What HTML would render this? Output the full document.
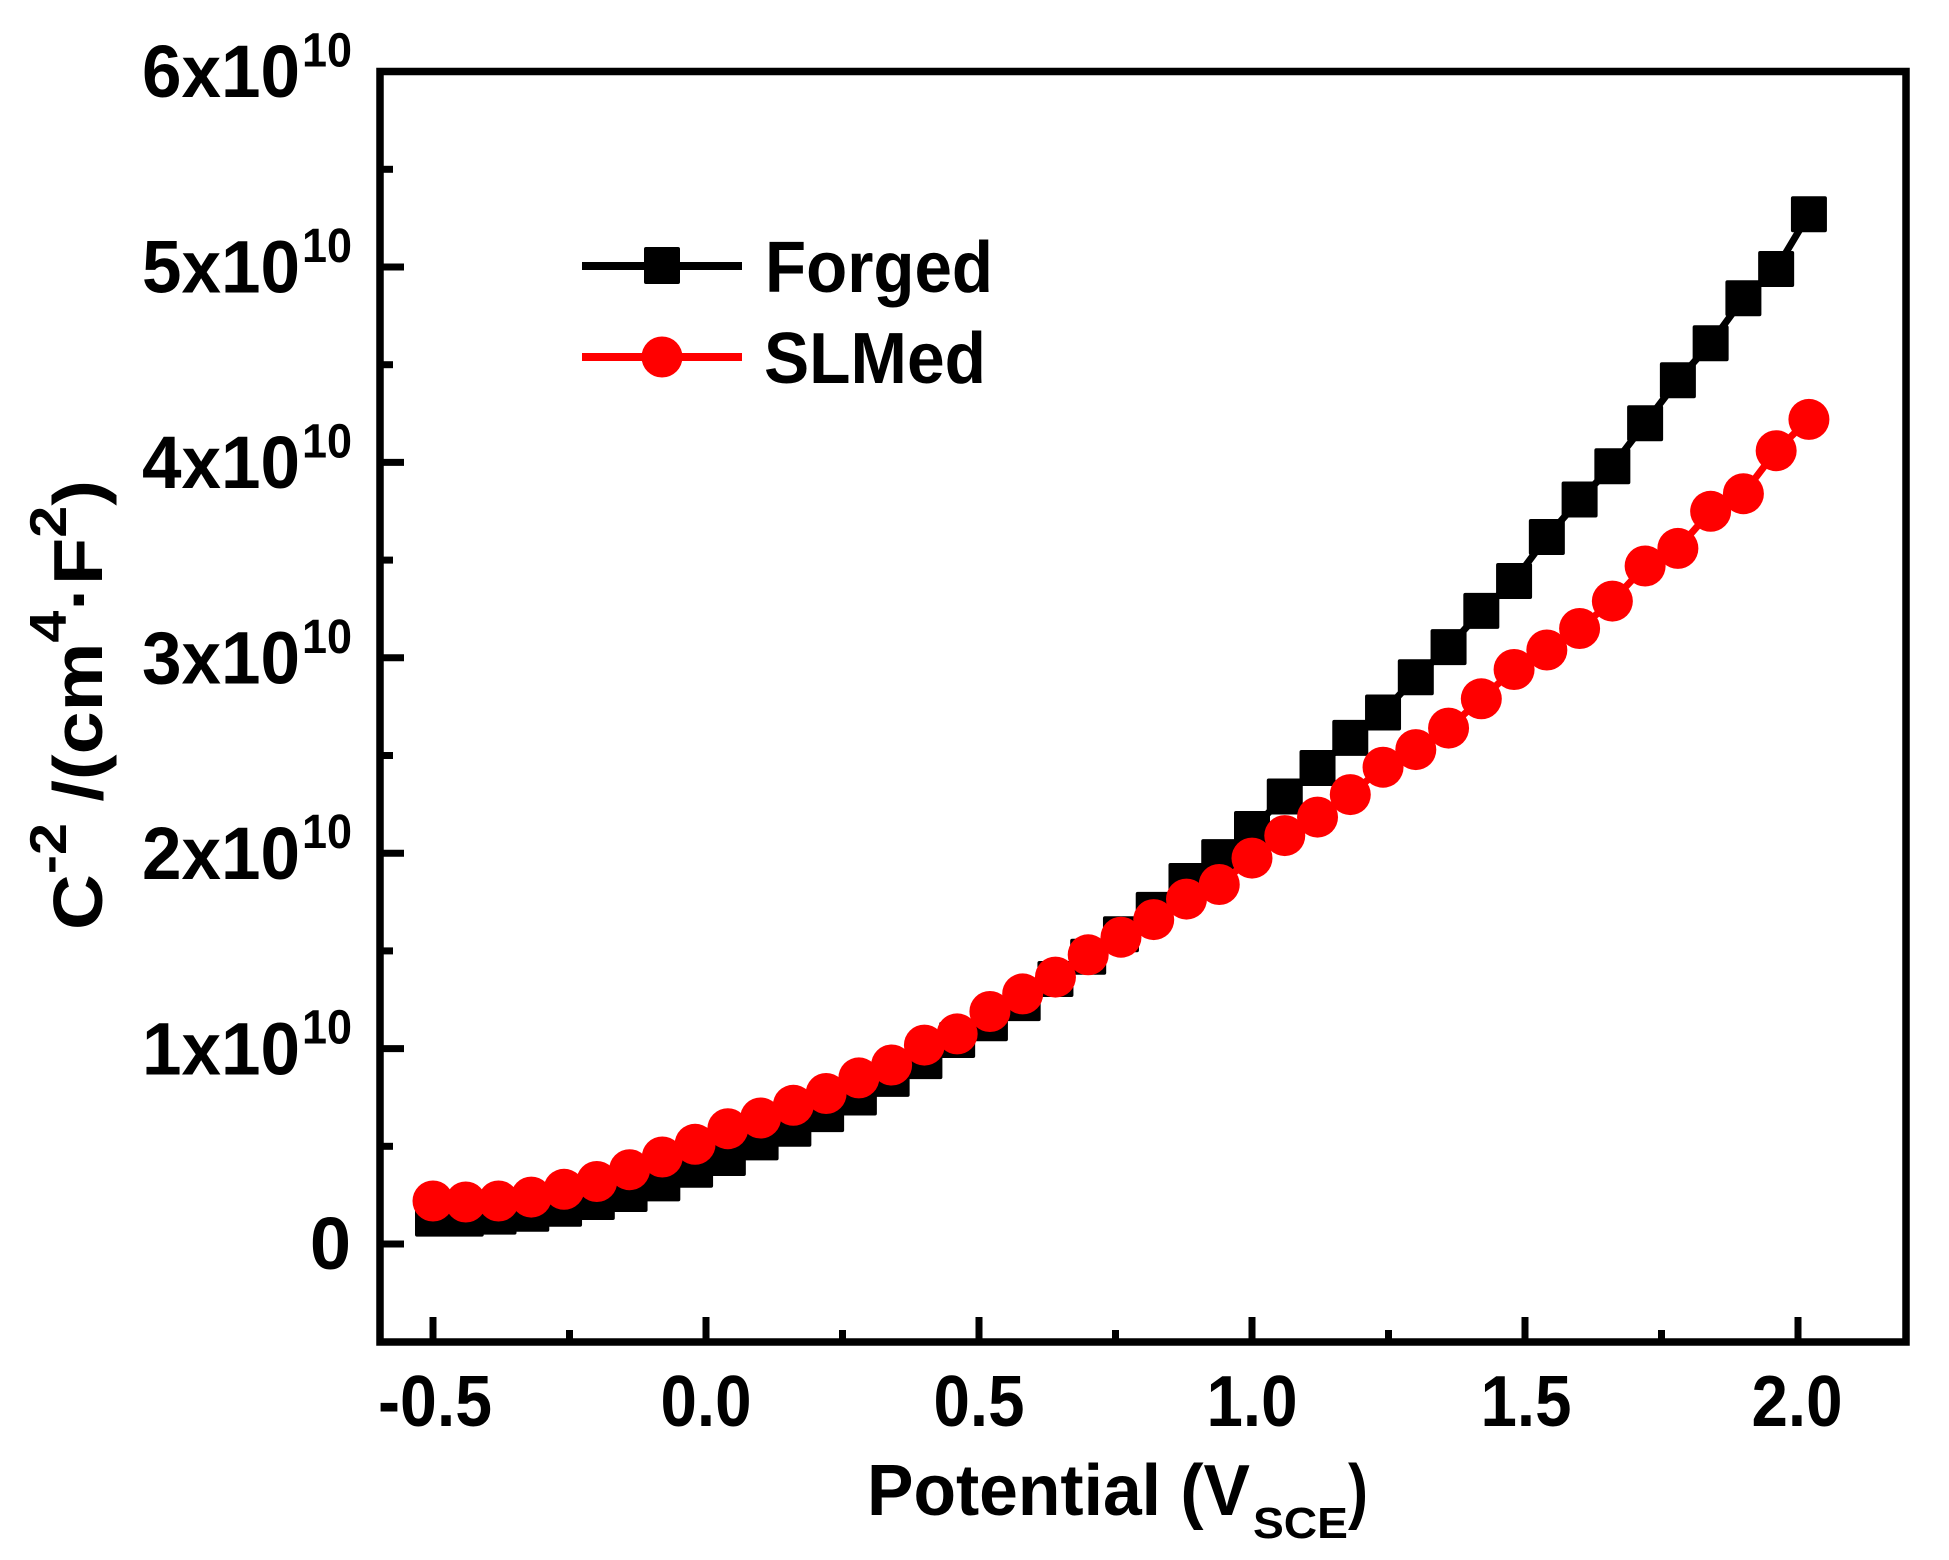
<!DOCTYPE html>
<html>
<head>
<meta charset="utf-8">
<style>
  html,body{margin:0;padding:0;background:#fff;}
  svg{display:block;}
  text{font-family:"Liberation Sans",Arial,sans-serif;font-weight:bold;fill:#000;}
</style>
</head>
<body>
<svg width="1949" height="1560" viewBox="0 0 1949 1560" xmlns="http://www.w3.org/2000/svg">
  <rect x="0" y="0" width="1949" height="1560" fill="#fff"/>

  <g stroke="#000" stroke-width="7">
    <line x1="380" y1="1244" x2="404" y2="1244"/>
    <line x1="380" y1="1048.6" x2="404" y2="1048.6"/>
    <line x1="380" y1="853.2" x2="404" y2="853.2"/>
    <line x1="380" y1="657.8" x2="404" y2="657.8"/>
    <line x1="380" y1="462.4" x2="404" y2="462.4"/>
    <line x1="380" y1="267" x2="404" y2="267"/>
    <line x1="380" y1="1146.3" x2="393" y2="1146.3"/>
    <line x1="380" y1="950.9" x2="393" y2="950.9"/>
    <line x1="380" y1="755.5" x2="393" y2="755.5"/>
    <line x1="380" y1="560.1" x2="393" y2="560.1"/>
    <line x1="380" y1="364.7" x2="393" y2="364.7"/>
    <line x1="380" y1="169.3" x2="393" y2="169.3"/>
    <line x1="433" y1="1342" x2="433" y2="1317"/>
    <line x1="706" y1="1342" x2="706" y2="1317"/>
    <line x1="979" y1="1342" x2="979" y2="1317"/>
    <line x1="1252" y1="1342" x2="1252" y2="1317"/>
    <line x1="1525" y1="1342" x2="1525" y2="1317"/>
    <line x1="1798" y1="1342" x2="1798" y2="1317"/>
    <line x1="569.5" y1="1342" x2="569.5" y2="1330"/>
    <line x1="842.5" y1="1342" x2="842.5" y2="1330"/>
    <line x1="1115.5" y1="1342" x2="1115.5" y2="1330"/>
    <line x1="1388.5" y1="1342" x2="1388.5" y2="1330"/>
    <line x1="1661.5" y1="1342" x2="1661.5" y2="1330"/>
  </g>

  <rect x="380" y="71.5" width="1526" height="1270.5" fill="none" stroke="#000" stroke-width="7.5"/>

  <polyline fill="none" stroke="#000" stroke-width="7" stroke-linejoin="round" points="433,1218.6 465.76,1218.6 498.52,1216.6 531.28,1213.7 564.04,1208.8 596.8,1202 629.56,1194 662.32,1183.4 695.08,1169.7 727.84,1158 760.6,1142.4 793.36,1128.7 826.12,1114.1 858.88,1097.5 891.64,1078.9 924.4,1061.1 957.16,1040 989.92,1023.2 1022.68,1003.1 1055.44,979 1088.2,956.8 1120.96,934.3 1153.72,909.9 1186.48,881 1219.24,857.1 1252,829 1284.76,796.5 1317.52,768 1350.28,737.9 1383.04,712.5 1415.8,677.3 1448.56,647.1 1481.32,610.9 1514.08,581 1546.84,537 1579.6,499.5 1612.36,466.3 1645.12,423.3 1677.88,380.3 1710.64,343.2 1743.4,298.3 1776.16,269 1808.92,214.2"/>
  <g fill="#000">
    <rect x="415" y="1200.6" width="36" height="36" rx="2"/>
    <rect x="447.76" y="1200.6" width="36" height="36" rx="2"/>
    <rect x="480.52" y="1198.6" width="36" height="36" rx="2"/>
    <rect x="513.28" y="1195.7" width="36" height="36" rx="2"/>
    <rect x="546.04" y="1190.8" width="36" height="36" rx="2"/>
    <rect x="578.8" y="1184" width="36" height="36" rx="2"/>
    <rect x="611.56" y="1176" width="36" height="36" rx="2"/>
    <rect x="644.32" y="1165.4" width="36" height="36" rx="2"/>
    <rect x="677.08" y="1151.7" width="36" height="36" rx="2"/>
    <rect x="709.84" y="1140" width="36" height="36" rx="2"/>
    <rect x="742.6" y="1124.4" width="36" height="36" rx="2"/>
    <rect x="775.36" y="1110.7" width="36" height="36" rx="2"/>
    <rect x="808.12" y="1096.1" width="36" height="36" rx="2"/>
    <rect x="840.88" y="1079.5" width="36" height="36" rx="2"/>
    <rect x="873.64" y="1060.9" width="36" height="36" rx="2"/>
    <rect x="906.4" y="1043.1" width="36" height="36" rx="2"/>
    <rect x="939.16" y="1022" width="36" height="36" rx="2"/>
    <rect x="971.92" y="1005.2" width="36" height="36" rx="2"/>
    <rect x="1004.68" y="985.1" width="36" height="36" rx="2"/>
    <rect x="1037.44" y="961" width="36" height="36" rx="2"/>
    <rect x="1070.2" y="938.8" width="36" height="36" rx="2"/>
    <rect x="1102.96" y="916.3" width="36" height="36" rx="2"/>
    <rect x="1135.72" y="891.9" width="36" height="36" rx="2"/>
    <rect x="1168.48" y="863" width="36" height="36" rx="2"/>
    <rect x="1201.24" y="839.1" width="36" height="36" rx="2"/>
    <rect x="1234" y="811" width="36" height="36" rx="2"/>
    <rect x="1266.76" y="778.5" width="36" height="36" rx="2"/>
    <rect x="1299.52" y="750" width="36" height="36" rx="2"/>
    <rect x="1332.28" y="719.9" width="36" height="36" rx="2"/>
    <rect x="1365.04" y="694.5" width="36" height="36" rx="2"/>
    <rect x="1397.8" y="659.3" width="36" height="36" rx="2"/>
    <rect x="1430.56" y="629.1" width="36" height="36" rx="2"/>
    <rect x="1463.32" y="592.9" width="36" height="36" rx="2"/>
    <rect x="1496.08" y="563" width="36" height="36" rx="2"/>
    <rect x="1528.84" y="519" width="36" height="36" rx="2"/>
    <rect x="1561.6" y="481.5" width="36" height="36" rx="2"/>
    <rect x="1594.36" y="448.3" width="36" height="36" rx="2"/>
    <rect x="1627.12" y="405.3" width="36" height="36" rx="2"/>
    <rect x="1659.88" y="362.3" width="36" height="36" rx="2"/>
    <rect x="1692.64" y="325.2" width="36" height="36" rx="2"/>
    <rect x="1725.4" y="280.3" width="36" height="36" rx="2"/>
    <rect x="1758.16" y="251" width="36" height="36" rx="2"/>
    <rect x="1790.92" y="196.2" width="36" height="36" rx="2"/>
  </g>

  <polyline fill="none" stroke="#ff0000" stroke-width="7" stroke-linejoin="round" points="433,1201 465.76,1202 498.52,1201 531.28,1197.1 564.04,1189.3 596.8,1181.5 629.56,1169.7 662.32,1157 695.08,1144.3 727.84,1128.7 760.6,1118 793.36,1105.3 826.12,1093.5 858.88,1077.9 891.64,1065 924.4,1045.1 957.16,1033.9 989.92,1011.5 1022.68,993.9 1055.44,977.1 1088.2,954.8 1120.96,937.2 1153.72,919.6 1186.48,899.1 1219.24,884.5 1252,858.1 1284.76,835.6 1317.52,817.1 1350.28,794.6 1383.04,767.2 1415.8,749.6 1448.56,728.1 1481.32,698.8 1514.08,669.5 1546.84,650 1579.6,628.5 1612.36,601.1 1645.12,566 1677.88,548.4 1710.64,511.3 1743.4,493.7 1776.16,450.7 1808.92,419.4"/>
  <g fill="#ff0000">
    <circle cx="433" cy="1201" r="20.5"/>
    <circle cx="465.76" cy="1202" r="20.5"/>
    <circle cx="498.52" cy="1201" r="20.5"/>
    <circle cx="531.28" cy="1197.1" r="20.5"/>
    <circle cx="564.04" cy="1189.3" r="20.5"/>
    <circle cx="596.8" cy="1181.5" r="20.5"/>
    <circle cx="629.56" cy="1169.7" r="20.5"/>
    <circle cx="662.32" cy="1157" r="20.5"/>
    <circle cx="695.08" cy="1144.3" r="20.5"/>
    <circle cx="727.84" cy="1128.7" r="20.5"/>
    <circle cx="760.6" cy="1118" r="20.5"/>
    <circle cx="793.36" cy="1105.3" r="20.5"/>
    <circle cx="826.12" cy="1093.5" r="20.5"/>
    <circle cx="858.88" cy="1077.9" r="20.5"/>
    <circle cx="891.64" cy="1065" r="20.5"/>
    <circle cx="924.4" cy="1045.1" r="20.5"/>
    <circle cx="957.16" cy="1033.9" r="20.5"/>
    <circle cx="989.92" cy="1011.5" r="20.5"/>
    <circle cx="1022.68" cy="993.9" r="20.5"/>
    <circle cx="1055.44" cy="977.1" r="20.5"/>
    <circle cx="1088.2" cy="954.8" r="20.5"/>
    <circle cx="1120.96" cy="937.2" r="20.5"/>
    <circle cx="1153.72" cy="919.6" r="20.5"/>
    <circle cx="1186.48" cy="899.1" r="20.5"/>
    <circle cx="1219.24" cy="884.5" r="20.5"/>
    <circle cx="1252" cy="858.1" r="20.5"/>
    <circle cx="1284.76" cy="835.6" r="20.5"/>
    <circle cx="1317.52" cy="817.1" r="20.5"/>
    <circle cx="1350.28" cy="794.6" r="20.5"/>
    <circle cx="1383.04" cy="767.2" r="20.5"/>
    <circle cx="1415.8" cy="749.6" r="20.5"/>
    <circle cx="1448.56" cy="728.1" r="20.5"/>
    <circle cx="1481.32" cy="698.8" r="20.5"/>
    <circle cx="1514.08" cy="669.5" r="20.5"/>
    <circle cx="1546.84" cy="650" r="20.5"/>
    <circle cx="1579.6" cy="628.5" r="20.5"/>
    <circle cx="1612.36" cy="601.1" r="20.5"/>
    <circle cx="1645.12" cy="566" r="20.5"/>
    <circle cx="1677.88" cy="548.4" r="20.5"/>
    <circle cx="1710.64" cy="511.3" r="20.5"/>
    <circle cx="1743.4" cy="493.7" r="20.5"/>
    <circle cx="1776.16" cy="450.7" r="20.5"/>
    <circle cx="1808.92" cy="419.4" r="20.5"/>
  </g>

  <line x1="582" y1="266" x2="742" y2="266" stroke="#000" stroke-width="8"/>
  <rect x="644" y="247" width="36" height="37" rx="2" fill="#000"/>
  <text x="765" y="292" font-size="72" textLength="228" lengthAdjust="spacingAndGlyphs">Forged</text>
  <line x1="582" y1="357" x2="742" y2="357" stroke="#ff0000" stroke-width="8"/>
  <circle cx="662" cy="357" r="20.5" fill="#ff0000"/>
  <text x="764" y="383" font-size="72" textLength="222" lengthAdjust="spacingAndGlyphs">SLMed</text>

  <g font-size="74">
    <text x="300" y="97" text-anchor="end" textLength="158" lengthAdjust="spacingAndGlyphs">6x10</text>
    <text x="300" y="292.5" text-anchor="end" textLength="158" lengthAdjust="spacingAndGlyphs">5x10</text>
    <text x="300" y="488" text-anchor="end" textLength="158" lengthAdjust="spacingAndGlyphs">4x10</text>
    <text x="300" y="683.5" text-anchor="end" textLength="158" lengthAdjust="spacingAndGlyphs">3x10</text>
    <text x="300" y="879" text-anchor="end" textLength="158" lengthAdjust="spacingAndGlyphs">2x10</text>
    <text x="300" y="1074.5" text-anchor="end" textLength="158" lengthAdjust="spacingAndGlyphs">1x10</text>
    <text x="351" y="1269" text-anchor="end">0</text>
  </g>
  <g font-size="48">
    <text x="302" y="66.6" textLength="50" lengthAdjust="spacingAndGlyphs">10</text>
    <text x="302" y="262" textLength="50" lengthAdjust="spacingAndGlyphs">10</text>
    <text x="302" y="457.4" textLength="50" lengthAdjust="spacingAndGlyphs">10</text>
    <text x="302" y="652.8" textLength="50" lengthAdjust="spacingAndGlyphs">10</text>
    <text x="302" y="848.2" textLength="50" lengthAdjust="spacingAndGlyphs">10</text>
    <text x="302" y="1043.6" textLength="50" lengthAdjust="spacingAndGlyphs">10</text>
  </g>

  <g font-size="72" text-anchor="middle">
    <text x="435" y="1426" textLength="114" lengthAdjust="spacingAndGlyphs">-0.5</text>
    <text x="706" y="1426" textLength="91" lengthAdjust="spacingAndGlyphs">0.0</text>
    <text x="979" y="1426" textLength="91" lengthAdjust="spacingAndGlyphs">0.5</text>
    <text x="1252" y="1426" textLength="91" lengthAdjust="spacingAndGlyphs">1.0</text>
    <text x="1526" y="1426" textLength="91" lengthAdjust="spacingAndGlyphs">1.5</text>
    <text x="1797" y="1426" textLength="91" lengthAdjust="spacingAndGlyphs">2.0</text>
  </g>

  <text x="867" y="1515" font-size="72" textLength="383" lengthAdjust="spacingAndGlyphs">Potential (V</text>
  <text x="1253" y="1538" font-size="44" textLength="95" lengthAdjust="spacingAndGlyphs">SCE</text>
  <text x="1348" y="1515" font-size="72" textLength="20" lengthAdjust="spacingAndGlyphs">)</text>

  <text transform="translate(102,930) rotate(-90)" font-size="70" textLength="450" lengthAdjust="spacingAndGlyphs">C<tspan font-size="52" dy="-36">-2</tspan><tspan font-size="70" dy="36"> /(cm</tspan><tspan font-size="52" dy="-36">4</tspan><tspan font-size="70" dy="36">·F</tspan><tspan font-size="52" dy="-36">2</tspan><tspan font-size="70" dy="36">)</tspan></text>
</svg>
</body>
</html>
